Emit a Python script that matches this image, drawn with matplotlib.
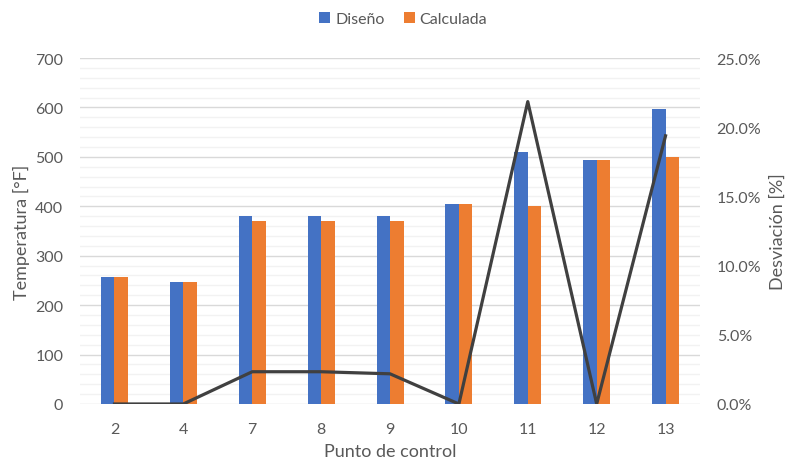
import matplotlib.pyplot as plt
import numpy as np
from matplotlib.ticker import MultipleLocator, FuncFormatter

# Control point data
puntos = ["2", "4", "7", "8", "9", "10", "11", "12", "13"]
diseno = [256, 247, 380, 380, 380, 405, 509, 494, 597]
calculada = [256, 247, 371, 371, 371, 405, 401, 494, 500]
desviacion = [0.0, 0.0, 0.0233, 0.0233, 0.0218, 0.0, 0.2185, 0.0, 0.1938]

blue = "#4472C4"
orange = "#ED7D31"
text_color = "#595959"

plt.rcParams["font.family"] = ["Lato", "DejaVu Sans"]

fig = plt.figure(figsize=(7.89, 4.64), dpi=100)
ax = fig.add_axes([0.1014, 0.1272, 0.7858, 0.7456])
ax2 = ax.twinx()

x = np.arange(len(puntos))
w = 0.196
ax.bar(x - w / 2, diseno, w, color=blue, label="Diseño", zorder=3)
ax.bar(x + w / 2, calculada, w, color=orange, label="Calculada", zorder=3)

ax.set_xlim(-0.5, len(puntos) - 0.5)
ax.set_ylim(0, 700)
ax.yaxis.set_major_locator(MultipleLocator(100))
ax.yaxis.set_minor_locator(MultipleLocator(20))
ax.grid(which="major", axis="y", color="#d9d9d9", linewidth=1.0, zorder=0)
ax.grid(which="minor", axis="y", color="#f2f2f2", linewidth=1.0, zorder=0)
ax.set_axisbelow(True)

ax.set_xticks(x)
ax.set_xticklabels(puntos)

# Deviation line on the secondary axis
ax2.plot(x, desviacion, color="#404040", linewidth=2.3, zorder=5)
ax2.set_ylim(0, 0.25)
ax2.yaxis.set_major_locator(MultipleLocator(0.05))
ax2.yaxis.set_major_formatter(FuncFormatter(lambda v, p: f"{v * 100:.1f}%"))

for a in (ax, ax2):
    for s in a.spines.values():
        s.set_visible(False)
    a.tick_params(which="both", length=0, labelsize=11.5, colors=text_color)
ax.tick_params(axis="y", pad=12)
ax.tick_params(axis="x", pad=13)
ax2.tick_params(axis="y", pad=12)

ax.set_ylabel("Temperatura [°F]", fontsize=13, color=text_color, labelpad=4)
ax2.set_ylabel("Desviación [%]", fontsize=13, color=text_color, labelpad=6)
ax.set_xlabel("Punto de control", fontsize=13, color=text_color, labelpad=5)

leg = fig.legend(loc="center", bbox_to_anchor=(0.511, 0.957), ncol=2, frameon=False,
                 fontsize=11.5, handlelength=0.7, handleheight=0.7, handletextpad=0.3,
                 columnspacing=1.2)
for t in leg.get_texts():
    t.set_color(text_color)

fig.savefig("out.png", dpi=100)
